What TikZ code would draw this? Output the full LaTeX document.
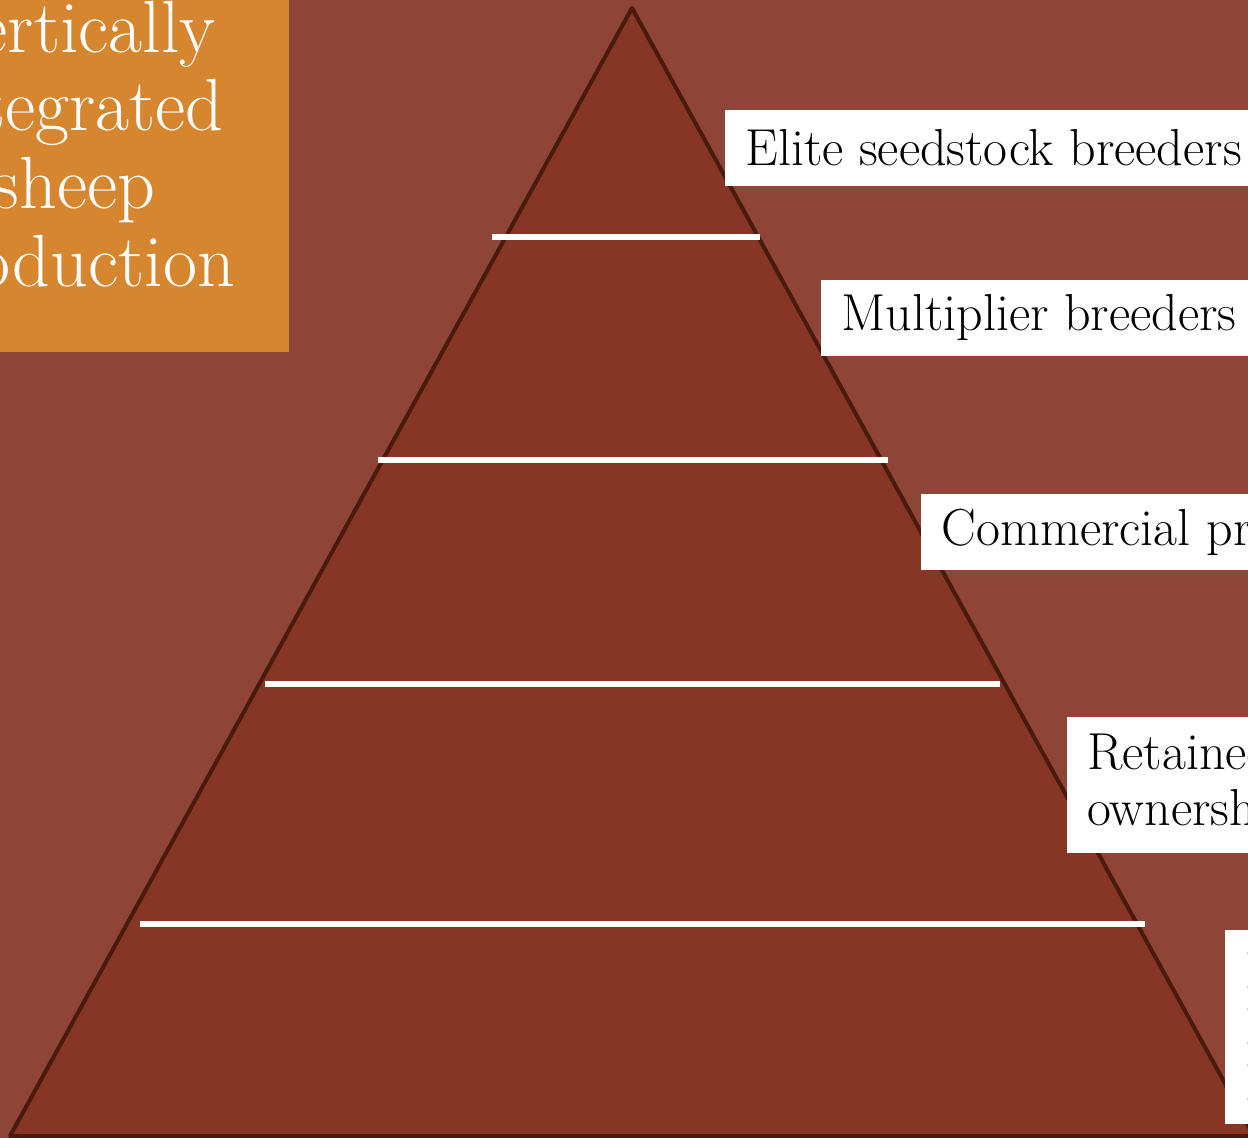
\documentclass[tikz,border=0pt]{standalone}
\usetikzlibrary{positioning,calc}
\definecolor{slidebg}{RGB}{142,68,54}
\definecolor{tierfill}{RGB}{135,53,36}
\definecolor{tierline}{RGB}{74,26,14}
\definecolor{oorange}{RGB}{213,134,47}
\tikzstyle{level} = [fill=white, text=black, anchor=west, inner xsep=10pt,
        inner ysep=0pt, minimum height=38pt, align=left,
        font=\fontsize{26}{28}\selectfont]
\tikzstyle{divider} = [draw=white, line width=3pt]

\begin{document}
\begin{tikzpicture}[x=0.5pt, y=-0.5pt]
\useasboundingbox (0,0) rectangle (1248,1138);
\clip (0,0) rectangle (1248,1138);
\fill[slidebg] (0,0) rectangle (1248,1138);

% title panel, cut off at the left of the slide
\fill[oorange] (-10,-10) rectangle (289,352);
\node (title) [text=white, align=center, anchor=base, inner sep=0pt,
    font=\fontsize{37}{39}\selectfont] at (74,287)
    {Vertically\\integrated\\sheep\\production};

% the pyramid
\coordinate (apex) at (632,8);
\coordinate (baseR) at (1254,1136);
\coordinate (baseL) at (10,1136);
\draw[tierline, fill=tierfill, line width=2pt, line join=round]
    (apex) -- (baseR) -- (baseL) -- cycle;

\draw[divider] (492,237) -- (760,237);
\draw[divider] (378,460) -- (888,460);
\draw[divider] (265,684) -- (1000,684);
\draw[divider] (140,924) -- (1145,924);

% tiers
\node (elite) [level] at (725,148) {Elite seedstock breeders};
\node (multiplier) [level] at (821,318) {Multiplier breeders};
\node (commercial) [level] at (921,532) {Commercial producers};
\node (retained) [level, minimum height=67.5pt] at (1067,785) {Retained\\ownership};
\node (market) [level, minimum height=97pt] at (1225,1027) {Packers,\\Processors,\\Retailers};
\end{tikzpicture}
\end{document}
